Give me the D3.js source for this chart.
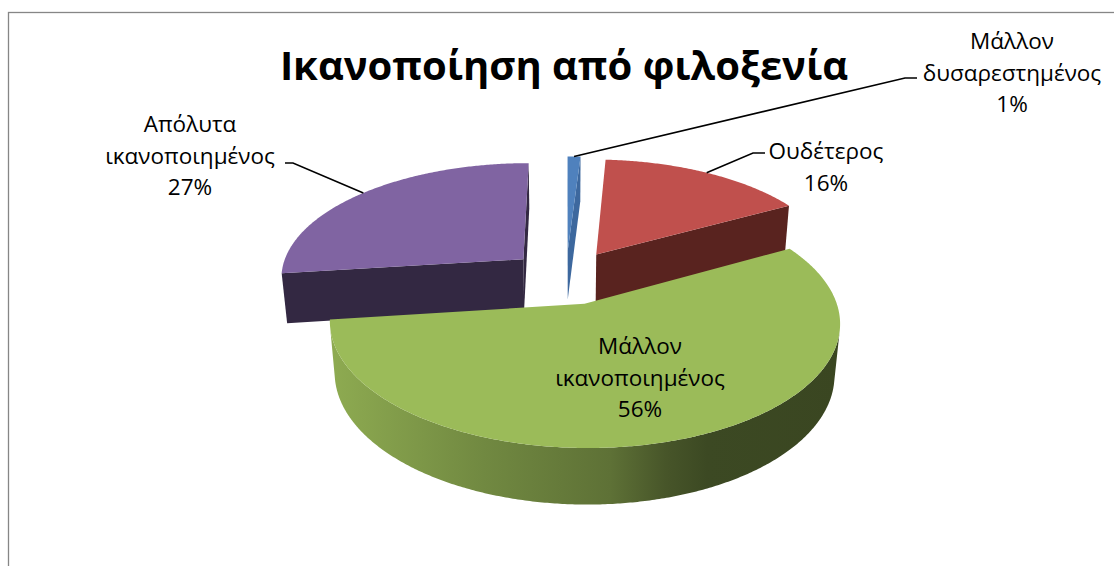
<!DOCTYPE html>
<html>
<head>
<meta charset="utf-8">
<script src="https://cdn.jsdelivr.net/npm/d3@7"></script>
<style>
  html, body { margin: 0; padding: 0; background: #fff; }
  svg { display: block; }
  text { font-family: "Open Sans", "Noto Sans", "DejaVu Sans", sans-serif; fill: #000; }
</style>
</head>
<body>
<svg id="chart" width="1114" height="566"></svg>
<script>
// Satisfaction with hospitality (share of respondents, %)
const categories = ["Μάλλον δυσαρεστημένος", "Ουδέτερος", "Μάλλον ικανοποιημένος", "Απόλυτα ικανοποιημένος"];
const values = [1, 16, 56, 27];
const chartTitle = "Ικανοποίηση από φιλοξενία";

// Face colours: top surface and the darker side / cut surface
const topColors = ["#4F81BD", "#C0504D", "#9BBB59", "#8064A2"];
const cutColors = ["#3D689E", "#59231F", "#3B4920", "#332842"];

// Label placement (text centre, first baseline, leader elbow and end)
const labelLayout = [
  { x: 1012, y: 49,  elbow: [905, 78],  end: [917, 78] },
  { x: 826,  y: 159, elbow: [753, 153], end: [765, 153] },
  { x: 640,  y: 354, elbow: null,       end: null },
  { x: 190,  y: 132, elbow: [293, 163], end: [285, 163] }
];
const lineHeight = 31.5;

// Perspective camera for the 3D pie (unit radius pie, Y runs away from the viewer)
const view = {
  cx: 566, cy: 327,          // screen position of the pie centre (base plane)
  scale: 1464,               // focal length in px
  dist: 6.118,               // camera distance in pie radii
  tilt: 30 * Math.PI / 180,  // elevation of the camera
  depth: 0.2367,             // pie thickness in radii
  explode: 0.238             // slice explosion in radii
};

const svg = d3.select("#chart");
const W = 1114, H = 566;

// chart area frame
svg.append("rect")
  .attr("x", 8.5).attr("y", 12.5)
  .attr("width", W + 20).attr("height", H + 20)
  .attr("fill", "#fff")
  .attr("stroke", "#868686").attr("stroke-width", 1.3);

const sinT = Math.sin(view.tilt), cosT = Math.cos(view.tilt);
const cam = [0, -view.dist * cosT, view.dist * sinT];

function project(X, Y, Z) {
  const d = view.dist + Y * cosT - Z * sinT;
  const up = Y * sinT + Z * cosT;
  return [view.cx + view.scale * X / d, view.cy - view.scale * up / d];
}
function facing(n, p) {
  return n[0] * (cam[0] - p[0]) + n[1] * (cam[1] - p[1]) + n[2] * (cam[2] - p[2]) > 0;
}

const data = categories.map((name, i) => ({ name, value: values[i], index: i }));
const total = d3.sum(values);
const pct = d3.format(".0%");

const pie = d3.pie().sort(null).value(d => d.value);
const arcs = pie(data);

const line = d3.line();
const h = view.depth;

const defs = svg.append("defs");

const slices = arcs.map(a => {
  const mid = (a.startAngle + a.endAngle) / 2;
  const ox = view.explode * Math.sin(mid);
  const oy = view.explode * Math.cos(mid);
  const rim = (ang, z) => project(ox + Math.sin(ang), oy + Math.cos(ang), z);
  const ctr = z => project(ox, oy, z);
  return { a, mid, ox, oy, rim, ctr, depthKey: oy + 0.5 * Math.cos(mid) };
});

const pieG = svg.append("g").attr("class", "pie3d");

// paint from the back of the scene to the front
slices.slice().sort((p, q) => q.depthKey - p.depthKey).forEach(s => {
  const { a, ox, oy, rim, ctr } = s;
  const i = a.data.index;
  const g = pieG.append("g").attr("class", "slice");
  const a0 = a.startAngle, a1 = a.endAngle;
  const steps = Math.max(8, Math.ceil((a1 - a0) / (Math.PI / 180) * 2));
  const angles = d3.range(steps + 1).map(k => a0 + (a1 - a0) * k / steps);

  // radial cut faces
  const faces = [
    { ang: a0, n: [-Math.cos(a0), Math.sin(a0), 0] },
    { ang: a1, n: [Math.cos(a1), -Math.sin(a1), 0] }
  ];
  faces.forEach(f => {
    const p = [ox + 0.5 * Math.sin(f.ang), oy + 0.5 * Math.cos(f.ang), h / 2];
    if (!facing(f.n, p)) return;
    g.append("path")
      .attr("d", line([ctr(h), rim(f.ang, h), rim(f.ang, 0), ctr(0)]) + "Z")
      .attr("fill", cutColors[i]);
  });

  // outer curved wall, only where it faces the camera
  const vis = angles.map(ang => facing([Math.sin(ang), Math.cos(ang), 0],
    [ox + Math.sin(ang), oy + Math.cos(ang), h / 2]));
  let runs = [], cur = null;
  angles.forEach((ang, k) => {
    if (vis[k]) { if (!cur) { cur = []; runs.push(cur); } cur.push(ang); }
    else cur = null;
  });
  runs.forEach((run, r) => {
    if (run.length < 2) return;
    const topPts = run.map(ang => rim(ang, h));
    const botPts = run.slice().reverse().map(ang => rim(ang, 0));
    const xs = topPts.concat(botPts).map(p => p[0]);
    const gid = "wall-" + i + "-" + r;
    const base = d3.color(topColors[i]);
    const grad = defs.append("linearGradient").attr("id", gid)
      .attr("gradientUnits", "userSpaceOnUse")
      .attr("x1", d3.min(xs)).attr("x2", d3.max(xs)).attr("y1", 0).attr("y2", 0);
    [[0, 0.25], [0.3, 0.88], [0.55, 1.4], [0.66, 2.2], [0.74, 2.65], [1, 2.75]].forEach(([o, k]) => {
      grad.append("stop").attr("offset", o).attr("stop-color", base.darker(k).formatHex());
    });
    g.append("path")
      .attr("d", line(topPts.concat(botPts)) + "Z")
      .attr("fill", "url(#" + gid + ")");
  });

  // top surface
  const topPts = [ctr(h)].concat(angles.map(ang => rim(ang, h)));
  g.append("path")
    .attr("d", line(topPts) + "Z")
    .attr("fill", topColors[i]);
});

// data labels with leader lines
const labelG = svg.append("g").attr("class", "labels");
slices.forEach(s => {
  const i = s.a.data.index;
  const L = labelLayout[i];
  if (L.elbow) {
    const start = s.rim(s.mid, h);
    labelG.append("path")
      .attr("d", line([start, L.elbow, L.end]))
      .attr("fill", "none").attr("stroke", "#000").attr("stroke-width", 1.6);
  }
  const words = s.a.data.name.split(" ");
  const lines = words.concat([pct(s.a.data.value / total)]);
  const t = labelG.append("text")
    .attr("text-anchor", "middle")
    .attr("font-size", 22.5);
  lines.forEach((ln, k) => {
    t.append("tspan").attr("x", L.x).attr("y", L.y + k * lineHeight).text(ln);
  });
});

// title
svg.append("text")
  .attr("x", 564).attr("y", 80)
  .attr("text-anchor", "middle")
  .attr("font-size", 40).attr("font-weight", 700)
  .text(chartTitle);
</script>
</body>
</html>
